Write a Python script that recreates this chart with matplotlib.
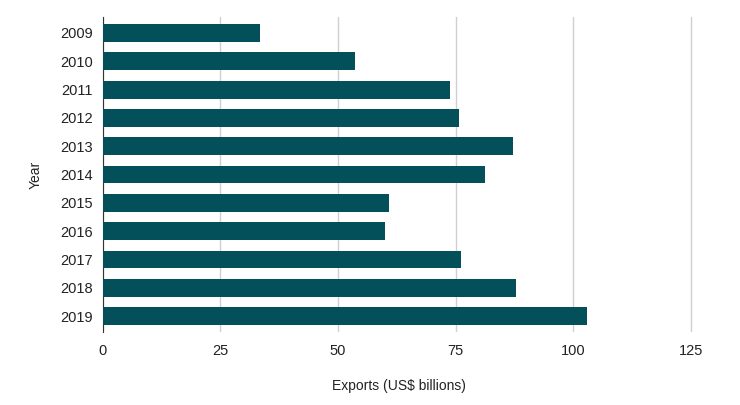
import matplotlib.pyplot as plt

years = ['2009', '2010', '2011', '2012', '2013', '2014', '2015', '2016', '2017', '2018', '2019']
exports = [33.4, 53.7, 73.7, 75.8, 87.2, 81.2, 60.9, 59.9, 76.2, 87.8, 103.0]
xticks = [0, 25, 50, 75, 100, 125]

plt.rcParams['font.family'] = ['Liberation Sans', 'DejaVu Sans']

fig = plt.figure(figsize=(7.4, 4.05), dpi=100)
ax = fig.add_axes([0.139, 0.181, 0.801, 0.776])

# bars from top to bottom
ax.barh(years, exports, height=0.63, color='#034f5a', zorder=3)
ax.set_ylim(10.55, -0.55)
ax.set_xlim(0, 126)

ax.set_xticks(xticks)
ax.set_xticklabels([str(t) for t in xticks])
ax.grid(axis='x', color='#d0d0d0', linewidth=1, zorder=0)
ax.tick_params(axis='both', length=0, labelsize=10.5, colors='#222222')
ax.tick_params(axis='x', pad=9)
ax.tick_params(axis='y', pad=7)

for s in ['top', 'right', 'bottom']:
    ax.spines[s].set_visible(False)
ax.spines['left'].set_color('#333333')

ax.set_xlabel('Exports (US$ billions)', fontsize=10, color='#222222', labelpad=15)
ax.set_ylabel('Year', fontsize=10, color='#222222', labelpad=13)

fig.savefig('out.png', dpi=100)
